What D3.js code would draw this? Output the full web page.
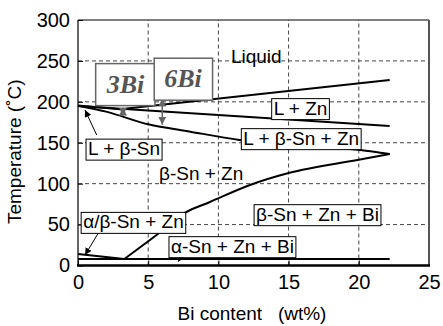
<!DOCTYPE html>
<html>
<head>
<meta charset="utf-8">
<script src="https://cdn.jsdelivr.net/npm/d3@7"></script>
<style>
  body { margin: 0; background: #fff; }
  svg { display: block; font-family: "Liberation Sans", Arial, Helvetica, sans-serif; }
</style>
</head>
<body>
<div id="chart"></div>
<script>
// phase boundaries, [Bi wt%, temperature °C]
const liquidusLine = [[0, 195.5], [3, 191], [22.2, 226.7]]
const lZnLine = [[0, 195], [22.2, 170.5]]
const solidusLine = [[0, 195.3], [2, 188], [5, 172.5], [8, 163.5], [11.5, 153.5], [20.1, 141.1], [22.2, 136.3]]
const biSolvusLine = [[3.3, 8], [5.5, 36], [7.6, 64.2], [9.4, 77.6], [12.25, 98.4], [15, 113], [19.9, 129], [22.2, 136.3]]
const alphaBetaLine = [[0, 14], [3.3, 8]]
const transitionLine = [[0, 8], [22.2, 8]]

const xTicks = [0, 5, 10, 15, 20, 25]
const yTicks = [0, 50, 100, 150, 200, 250, 300]

// phase field labels: text, x, T, boxed
const phaseLabels = [
  { text: 'Liquid', x: 12.7, t: 256, box: false },
  { text: 'L + Zn', x: 15.85, t: 192.5, box: true },
  { text: 'L + β-Sn + Zn', x: 15.9, t: 155.8, box: true },
  { text: 'L + β-Sn', x: 3.28, t: 143, box: true },
  { text: 'β-Sn + Zn', x: 8.77, t: 112, box: false },
  { text: 'α/β-Sn + Zn', x: 3.95, t: 53.5, box: true },
  { text: 'β-Sn + Zn + Bi', x: 17.06, t: 62.9, box: true },
  { text: 'α-Sn + Zn + Bi', x: 11.0, t: 23.8, box: true }
]

// pointer arrows: from [x, T] to [x, T]
const pointers = [
  [[1.33, 159.5], [0.5, 190]],
  [[1.45, 39.7], [0.5, 12.8]],
  [[7.74, 21], [7.14, 4.6]]
]

// alloy markers
const alloyNames = ['3Bi', '6Bi']
const alloyBoxX = [3.38, 7.48]
const alloyBoxT = [222.4, 229]
const alloyBi = [3.2, 6.0]
const alloyTop = [193, 204]
const alloyBottom = [183, 172]

const width = 443, height = 326
const margin = { top: 20, right: 14, bottom: 60.5, left: 78 }

const svg = d3.select('#chart').append('svg')
  .attr('width', width)
  .attr('height', height)

const defs = svg.append('defs')
defs.append('marker')
  .attr('id', 'arrow-black')
  .attr('viewBox', '0 0 10 10')
  .attr('refX', 10).attr('refY', 5)
  .attr('markerWidth', 7).attr('markerHeight', 7)
  .attr('markerUnits', 'userSpaceOnUse')
  .attr('orient', 'auto')
  .append('path').attr('d', 'M0,0L10,5L0,10z').attr('fill', '#000')
defs.append('marker')
  .attr('id', 'arrow-gray')
  .attr('viewBox', '0 0 10 10')
  .attr('refX', 10).attr('refY', 5)
  .attr('markerWidth', 8).attr('markerHeight', 8)
  .attr('markerUnits', 'userSpaceOnUse')
  .attr('orient', 'auto-start-reverse')
  .append('path').attr('d', 'M0,0L10,5L0,10z').attr('fill', '#666')

const x = d3.scaleLinear().domain([0, 25]).range([margin.left, width - margin.right])
const y = d3.scaleLinear().domain([0, 300]).range([height - margin.bottom, margin.top])

// grid
svg.append('g').selectAll('line')
  .data(xTicks.filter(d => d > 0 && d < 25))
  .enter().append('line')
  .attr('x1', d => x(d)).attr('x2', d => x(d))
  .attr('y1', y(0)).attr('y2', y(300))
  .attr('stroke', '#444').attr('stroke-width', 1)
  .attr('stroke-dasharray', '4,3')
svg.append('g').selectAll('line')
  .data(yTicks.filter(d => d > 0 && d < 300))
  .enter().append('line')
  .attr('x1', x(0)).attr('x2', x(25))
  .attr('y1', d => y(d)).attr('y2', d => y(d))
  .attr('stroke', '#444').attr('stroke-width', 1)
  .attr('stroke-dasharray', '4,3')

// axes
const xAxis = svg.append('g')
  .attr('transform', `translate(0,${y(0)})`)
  .call(d3.axisBottom(x).tickValues(xTicks).tickSize(-5).tickPadding(9).tickSizeOuter(0))
xAxis.select('.domain').remove()
xAxis.selectAll('text').style('font-size', '20px').attr('fill', '#000')

const yAxis = svg.append('g')
  .attr('transform', `translate(${x(0)},0)`)
  .call(d3.axisLeft(y).tickValues(yTicks).tickSize(-5).tickPadding(8).tickSizeOuter(0))
yAxis.select('.domain').remove()
yAxis.selectAll('text').style('font-size', '20px').attr('fill', '#000')

// frame
svg.append('line').attr('x1', x(0)).attr('x2', x(25)).attr('y1', y(300)).attr('y2', y(300))
  .attr('stroke', '#000').attr('stroke-width', 1.2)
svg.append('line').attr('x1', x(0)).attr('x2', x(0)).attr('y1', y(0)).attr('y2', y(300))
  .attr('stroke', '#000').attr('stroke-width', 1.2)
svg.append('line').attr('x1', x(25)).attr('x2', x(25)).attr('y1', y(0)).attr('y2', y(300))
  .attr('stroke', '#555').attr('stroke-width', 2)
svg.append('line').attr('x1', x(0) - 1).attr('x2', x(25) + 1).attr('y1', y(0)).attr('y2', y(0))
  .attr('stroke', '#000').attr('stroke-width', 2.5)

// phase boundaries
const line = d3.line().x(d => x(d[0])).y(d => y(d[1]))
const lineSmooth = d3.line().x(d => x(d[0])).y(d => y(d[1])).curve(d3.curveMonotoneX)
const plot = svg.append('g')
;[liquidusLine, lZnLine, transitionLine, alphaBetaLine].forEach(pts => {
  plot.append('path').attr('d', line(pts))
    .attr('fill', 'none').attr('stroke', '#000').attr('stroke-width', 2)
})
;[solidusLine, biSolvusLine].forEach(pts => {
  plot.append('path').attr('d', lineSmooth(pts))
    .attr('fill', 'none').attr('stroke', '#000').attr('stroke-width', 2)
})

// alloy markers (gray double arrows)
alloyBi.forEach((b, i) => {
  svg.append('line')
    .attr('x1', x(b)).attr('x2', x(b))
    .attr('y1', y(alloyBottom[i])).attr('y2', y(alloyTop[i]))
    .attr('stroke', '#666').attr('stroke-width', 1.5)
    .attr('marker-start', 'url(#arrow-gray)')
    .attr('marker-end', 'url(#arrow-gray)')
})

// pointer arrows
pointers.forEach(p => {
  svg.append('line')
    .attr('x1', x(p[0][0])).attr('y1', y(p[0][1]))
    .attr('x2', x(p[1][0])).attr('y2', y(p[1][1]))
    .attr('stroke', '#000').attr('stroke-width', 1)
    .attr('marker-end', 'url(#arrow-black)')
})

// phase labels
phaseLabels.forEach(l => {
  const g = svg.append('g')
  const rect = g.append('rect')
  const t = g.append('text')
    .attr('x', x(l.x)).attr('y', y(l.t))
    .attr('dy', '0.35em')
    .attr('text-anchor', 'middle')
    .style('font-size', '19px')
    .attr('fill', '#000')
    .text(l.text)
  if (l.box) {
    const bb = t.node().getBBox()
    rect.attr('x', bb.x - 2).attr('y', bb.y + 1)
      .attr('width', bb.width + 4).attr('height', bb.height)
      .attr('fill', '#fff').attr('stroke', '#000').attr('stroke-width', 1)
  } else {
    rect.remove()
  }
})

// alloy name boxes
alloyNames.forEach((name, i) => {
  const g = svg.append('g')
  const rect = g.append('rect')
  const t = g.append('text')
    .attr('x', x(alloyBoxX[i])).attr('y', y(alloyBoxT[i]))
    .attr('dy', '0.35em')
    .attr('text-anchor', 'middle')
    .style('font-family', '"Liberation Serif", "Times New Roman", serif')
    .style('font-style', 'italic')
    .style('font-weight', 'bold')
    .style('font-size', '26px')
    .attr('fill', '#555')
    .text(name)
  const bb = t.node().getBBox()
  rect.attr('x', bb.x - 10).attr('y', bb.y - 6)
    .attr('width', bb.width + 20).attr('height', bb.height + 13)
    .attr('fill', '#fff').attr('stroke', '#666').attr('stroke-width', 1.5)
})

// axis titles
svg.append('text')
  .attr('x', 252).attr('y', 320)
  .attr('text-anchor', 'middle')
  .style('font-size', '19px')
  .attr('xml:space', 'preserve')
  .text('Bi content   (wt%)')

svg.append('text')
  .attr('transform', `translate(21,${(y(0) + y(300)) / 2 + 9}) rotate(-90)`)
  .attr('text-anchor', 'middle')
  .style('font-size', '19px')
  .text('Temperature (˚C)')
</script>
</body>
</html>
